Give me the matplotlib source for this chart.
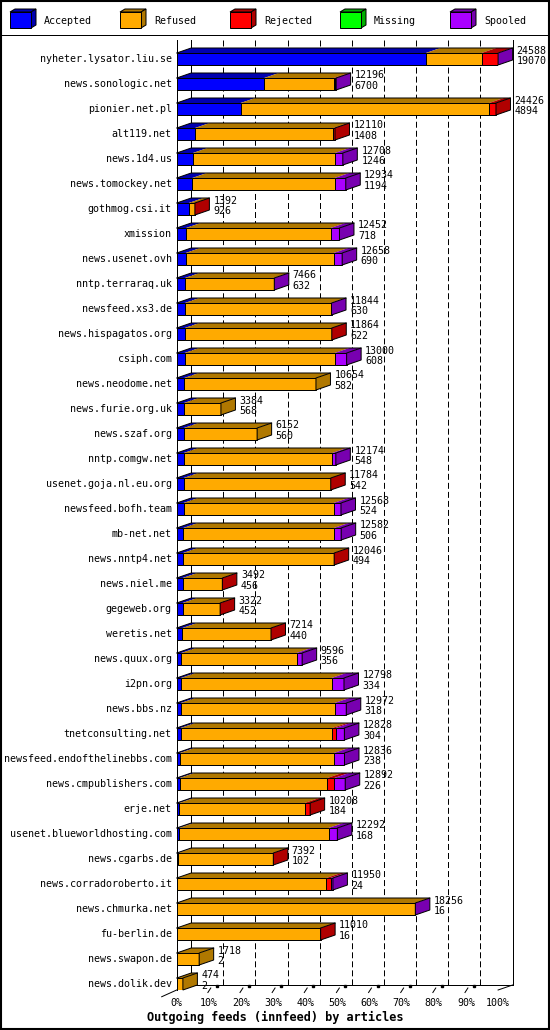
import matplotlib
matplotlib.use('Agg')
import matplotlib.pyplot as plt
from matplotlib.patches import Polygon, Rectangle

hosts = ['nyheter.lysator.liu.se', 'news.sonologic.net', 'pionier.net.pl',
         'alt119.net', 'news.1d4.us', 'news.tomockey.net', 'gothmog.csi.it',
         'xmission', 'news.usenet.ovh', 'nntp.terraraq.uk', 'newsfeed.xs3.de',
         'news.hispagatos.org', 'csiph.com', 'news.neodome.net',
         'news.furie.org.uk', 'news.szaf.org', 'nntp.comgw.net',
         'usenet.goja.nl.eu.org', 'newsfeed.bofh.team', 'mb-net.net',
         'news.nntp4.net', 'news.niel.me', 'gegeweb.org', 'weretis.net',
         'news.quux.org', 'i2pn.org', 'news.bbs.nz', 'tnetconsulting.net',
         'newsfeed.endofthelinebbs.com', 'news.cmpublishers.com', 'erje.net',
         'usenet.blueworldhosting.com', 'news.cgarbs.de',
         'news.corradoroberto.it', 'news.chmurka.net', 'fu-berlin.de',
         'news.swapon.de', 'news.dolik.dev']
totals = [24588, 12196, 24426, 12110, 12708, 12934, 1392, 12452, 12658, 7466,
          11844, 11864, 13000, 10654, 3384, 6152, 12174, 11784, 12568, 12582,
          12046, 3492, 3322, 7214, 9596, 12798, 12972, 12828, 12836, 12892,
          10208, 12292, 7392, 11950, 18256, 11010, 1718, 474]
accepted = [19070, 6700, 4894, 1408, 1246, 1194, 926, 718, 690, 632,
            630, 622, 608, 582, 568, 560, 548, 542, 524, 506,
            494, 456, 452, 440, 356, 334, 318, 304, 238, 226,
            184, 168, 102, 24, 16, 16, 2, 2]
refused = [4260, 5320, 19020, 10577, 10866, 10893, 440, 11063, 11320, 6788,
           11150, 11230, 11479, 10072, 2816, 5592, 11360, 11232, 11486, 11530,
           11516, 2987, 2838, 6751, 8824, 11524, 11769, 11605, 11798, 11300,
           9608, 11460, 7242, 11426, 18200, 10964, 1716, 472]
rejected = [1230, 120, 512, 125, 0, 0, 26, 0, 0, 0,
            0, 12, 0, 0, 0, 0, 0, 10, 0, 0,
            36, 49, 32, 23, 0, 0, 0, 250, 0, 536,
            416, 0, 48, 330, 0, 30, 0, 0]
missing = [0] * 38
spooled = [28, 56, 0, 0, 596, 847, 0, 671, 648, 46,
           64, 0, 913, 0, 0, 0, 266, 0, 558, 546,
           0, 0, 0, 0, 416, 940, 885, 669, 800, 830,
           0, 664, 0, 170, 40, 0, 0, 0]

series = ['Accepted', 'Refused', 'Rejected', 'Missing', 'Spooled']
colors = ['#0000ff', '#ffaa00', '#ff0000', '#00ff00', '#aa00ff']
dark = ['#0000b0', '#b07800', '#b00000', '#00b000', '#7800b0']

plt.rcParams['font.family'] = 'DejaVu Sans Mono'
plt.rcParams['lines.scale_dashes'] = False
FS = 7.2
LW = 0.72

W, H = 550, 1030
fig = plt.figure(figsize=(5.5, 10.3), dpi=100)
fig.patch.set_facecolor('white')

# pixel axes for frame, legend, title
bg = fig.add_axes([0, 0, 1, 1])
bg.set_xlim(0, W)
bg.set_ylim(H, 0)
bg.axis('off')
bg.add_patch(Rectangle((0.7, 0.7), W - 1.4, H - 1.4, fill=False,
                       edgecolor='black', linewidth=1.5))
bg.plot([0, W], [35, 35], color='black', linewidth=LW)
for k, name in enumerate(series):
    x0 = 10 + 110 * k
    bg.add_patch(Polygon([(x0, 12), (x0 + 21, 12), (x0 + 26, 9), (x0 + 5, 9)],
                         facecolor=dark[k], edgecolor='black', linewidth=LW))
    bg.add_patch(Polygon([(x0 + 21, 12), (x0 + 26, 9), (x0 + 26, 25),
                          (x0 + 21, 28)],
                         facecolor=dark[k], edgecolor='black', linewidth=LW))
    bg.add_patch(Rectangle((x0, 12), 21, 16, facecolor=colors[k],
                           edgecolor='black', linewidth=LW))
    bg.text(x0 + 34, 20.5, name, fontsize=FS, va='center', ha='left')
bg.text(275, 1017, 'Outgoing feeds (innfeed) by articles', fontsize=8.6,
        fontweight='bold', ha='center', va='center')

# chart axes: x in percent of largest total, y in rows
n = len(hosts)
ax = fig.add_axes([176.7 / W, 1 - 990 / H, 321.4 / W, 950 / H])
ax.set_xlim(0, 100)
ax.set_ylim(37.24, -0.76)
ax.axis('off')

DX = 14.5 / 3.214
DY = -0.2
BH = 0.48
floor_back = 37.04
floor_front = 37.24

for p in range(10, 100, 10):
    ax.plot([p + DX, p + DX], [-0.76, floor_back], color='black',
            linewidth=LW, dashes=(4.3, 2.2), zorder=1, clip_on=False)
for p in (0, 100):
    ax.plot([p + DX, p + DX], [-0.76, floor_back], color='black',
            linewidth=LW, zorder=1, clip_on=False)
ax.plot([0, 0], [-0.76, floor_front], color='black', linewidth=LW, zorder=1,
        clip_on=False)
ax.plot([0, 100 + DX], [floor_back, floor_back], color='black', linewidth=LW,
        zorder=1, clip_on=False)
ax.plot([100, 100 + DX], [floor_front, floor_back], color='black',
        linewidth=LW, zorder=1, clip_on=False)
ax.plot([-4.67, 0], [floor_front + 0.27, floor_front], color='black',
        linewidth=LW, zorder=1, clip_on=False)
for p in range(10, 100, 10):
    ax.plot([p - 0.3, p + 0.6], [floor_front + 0.1, floor_front - 0.08],
            color='black', linewidth=LW, clip_on=False)
    ax.plot([p + 2.5], [floor_back + 0.04], marker='s', markersize=2,
            color='black', clip_on=False)
for p in range(0, 101, 10):
    ax.text(p, 37.76, f'{p}%', fontsize=FS, ha='center', va='center')

scale = 100.0 / max(totals)
values = [accepted, refused, rejected, missing, spooled]
for i in range(n):
    top = i - BH / 2
    bot = i + BH / 2
    left = 0.0
    last = 0
    for k, vals in enumerate(values):
        w = vals[i] * scale
        if vals[i] == 0:
            continue
        ax.add_patch(Polygon([(left, top), (left + w, top),
                              (left + w + DX, top + DY), (left + DX, top + DY)],
                             facecolor=dark[k], edgecolor='none', zorder=2,
                             clip_on=False))
        ax.barh(i, w, left=left, height=BH, color=colors[k],
                edgecolor='black', linewidth=LW, zorder=3)
        left += w
        last = k
    end = left
    ax.add_patch(Polygon([(end, top), (end + DX, top + DY), (end + DX, bot + DY),
                          (end, bot)], facecolor=dark[last], edgecolor='black',
                         linewidth=LW, zorder=3, clip_on=False))
    ax.plot([0, DX, end + DX], [top, top + DY, top + DY], color='black',
            linewidth=LW, zorder=4, clip_on=False)
    ax.annotate(hosts[i], (0, i), xytext=(-5, 0), textcoords='offset pixels',
                ha='right', va='center', fontsize=FS, annotation_clip=False)
    ax.annotate(str(totals[i]), (end + DX, i), xytext=(4, 8.5),
                textcoords='offset pixels', ha='left', va='center',
                fontsize=FS, annotation_clip=False)
    ax.annotate(str(accepted[i]), (end + DX, i), xytext=(4, -2),
                textcoords='offset pixels', ha='left', va='center',
                fontsize=FS, annotation_clip=False)

fig.savefig('out.png', dpi=100)
